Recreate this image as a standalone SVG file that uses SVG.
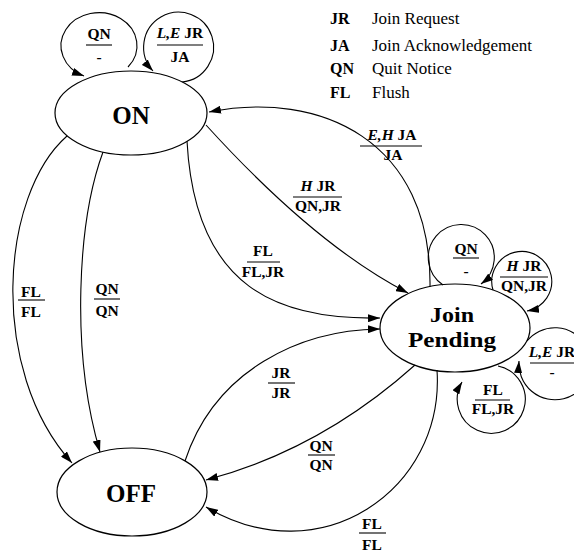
<svg xmlns="http://www.w3.org/2000/svg" width="574" height="558" viewBox="0 0 574 558">
<style>
.node{fill:#fff;stroke:#000;stroke-width:1.2}
.edge{fill:none;stroke:#000;stroke-width:1.1}
.nt{font-family:"Liberation Serif",serif;font-weight:bold;font-size:25px;text-anchor:middle;fill:#000}
.jp{font-size:22px}
.lb{font-family:"Liberation Serif",serif;font-weight:bold;font-size:15.5px;text-anchor:middle;fill:#000}
.it{font-style:italic}
.bar{stroke:#000;stroke-width:1.1}
.lk{font-family:"Liberation Serif",serif;font-weight:bold;font-size:16px;fill:#000}
.ld{font-family:"Liberation Serif",serif;font-size:17px;fill:#000}
</style>
<defs>
<marker id="ah" markerWidth="12" markerHeight="8" refX="12" refY="4" orient="auto" markerUnits="userSpaceOnUse">
<path d="M0,0 L12,4 L0,8 z" fill="#000"/>
</marker>
</defs>
<g id="legend">
<text class="lk" x="330" y="24">JR</text><text class="ld" x="372" y="24">Join Request</text>
<text class="lk" x="330" y="51">JA</text><text class="ld" x="372" y="51">Join Acknowledgement</text>
<text class="lk" x="330" y="74">QN</text><text class="ld" x="372" y="74">Quit Notice</text>
<text class="lk" x="330" y="98">FL</text><text class="ld" x="372" y="98">Flush</text>
</g>
<g id="connectors">
<path class="edge" marker-end="url(#ah)" d="M67,136 C0,195 -12,370 72,463"/>
<path class="edge" marker-end="url(#ah)" d="M103,152 C78,220 70,350 100,452"/>
<path class="edge" marker-end="url(#ah)" d="M187,141 C195,290 280,320 380,318"/>
<path class="edge" marker-end="url(#ah)" d="M206,125 Q315,245 408,293"/>
<path class="edge" marker-end="url(#ah)" d="M430,287 C432,140 320,90 209,112"/>
<path class="edge" marker-end="url(#ah)" d="M185,461 C215,370 300,330 380,329"/>
<path class="edge" marker-end="url(#ah)" d="M415,365 Q320,450 206,480"/>
<path class="edge" marker-end="url(#ah)" d="M437,370 C445,490 320,575 206,507"/>
<path class="edge" marker-end="url(#ah)" d="M128,67 A38,33 0 1 0 84,76"/>
<path class="edge" marker-end="url(#ah)" d="M182,82 A35,35 0 1 0 153,71"/>
<path class="edge" marker-end="url(#ah)" d="M443,285 A33,33 0 1 1 481,284"/>
<path class="edge" marker-end="url(#ah)" d="M493,290 A30,30 0 1 1 527,311"/>
<path class="edge" marker-end="url(#ah)" d="M527,341 A36,36 0 1 1 519,361"/>
<path class="edge" marker-end="url(#ah)" d="M498,366 A34,34 0 1 1 462,382"/>
</g>
<g id="labels">
<text class="lb" x="99" y="39">QN</text><line class="bar" x1="86" y1="45" x2="112" y2="45"/><text class="lb" x="99" y="62">-</text>
<text class="lb" x="180" y="38"><tspan class="it">L,E</tspan> JR</text><line class="bar" x1="157" y1="45" x2="203" y2="45"/><text class="lb" x="180" y="62">JA</text>
<text class="lb" x="392" y="140"><tspan class="it">E,H</tspan> JA</text><line class="bar" x1="360" y1="146" x2="422" y2="146"/><text class="lb" x="393" y="160">JA</text>
<text class="lb" x="318" y="191"><tspan class="it">H</tspan> JR</text><line class="bar" x1="293" y1="197" x2="342" y2="197"/><text class="lb" x="318" y="211">QN,JR</text>
<text class="lb" x="263" y="256">FL</text><line class="bar" x1="247" y1="262" x2="280" y2="262"/><text class="lb" x="263" y="277">FL,JR</text>
<text class="lb" x="31" y="297">FL</text><line class="bar" x1="18" y1="300" x2="45" y2="300"/><text class="lb" x="31" y="317">FL</text>
<text class="lb" x="107" y="294">QN</text><line class="bar" x1="94" y1="299" x2="120" y2="299"/><text class="lb" x="107" y="316">QN</text>
<text class="lb" x="281" y="378">JR</text><line class="bar" x1="268" y1="383" x2="295" y2="383"/><text class="lb" x="281" y="398">JR</text>
<text class="lb" x="321" y="451">QN</text><line class="bar" x1="308" y1="455" x2="335" y2="455"/><text class="lb" x="321" y="470">QN</text>
<text class="lb" x="372" y="529">FL</text><line class="bar" x1="359" y1="533" x2="386" y2="533"/><text class="lb" x="372" y="550">FL</text>
<text class="lb" x="466" y="254">QN</text><line class="bar" x1="453" y1="258" x2="479" y2="258"/><text class="lb" x="466" y="276">-</text>
<text class="lb" x="524" y="271"><tspan class="it">H</tspan> JR</text><line class="bar" x1="500" y1="277" x2="548" y2="277"/><text class="lb" x="524" y="291">QN,JR</text>
<text class="lb" x="552" y="357"><tspan class="it">L,E</tspan> JR</text><line class="bar" x1="530" y1="363" x2="574" y2="363"/><text class="lb" x="552" y="377">-</text>
<text class="lb" x="493" y="395">FL</text><line class="bar" x1="475" y1="400" x2="510" y2="400"/><text class="lb" x="493" y="414">FL,JR</text>
</g>
<g id="node-on">
<ellipse class="node" cx="131" cy="113" rx="76" ry="42"/>
<text class="nt" x="131" y="124">ON</text>
</g>
<g id="node-off">
<ellipse class="node" cx="132" cy="492" rx="75" ry="44"/>
<text class="nt" x="131" y="502">OFF</text>
</g>
<g id="node-join-pending">
<text class="nt jp" x="452" y="322" textLength="44" lengthAdjust="spacingAndGlyphs">Join</text>
<text class="nt jp" x="452" y="347" textLength="88" lengthAdjust="spacingAndGlyphs">Pending</text>
<ellipse class="node" cx="455" cy="328" rx="75" ry="44" style="fill:none"/>
</g>
</svg>
